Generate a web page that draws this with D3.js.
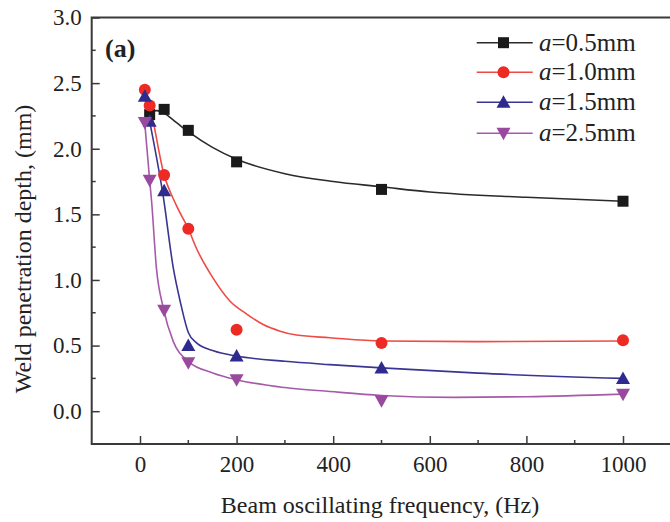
<!DOCTYPE html>
<html><head><meta charset="utf-8">
<script src="https://cdn.jsdelivr.net/npm/d3@7"></script>
<style>body{margin:0;background:#fff}svg{display:block}</style>
</head><body>
<svg id="c" width="670" height="522"></svg>
<script>
// ---- data ----
const freqs = [10, 20, 50, 100, 200, 500, 1000];
const seriesNames = ["0.5mm", "1.0mm", "1.5mm", "2.5mm"];
const depthA05 = [null, 2.26, 2.30, 2.14, 1.90, 1.69, 1.60];
const depthA10 = [2.45, 2.33, 1.80, 1.39, 0.62, 0.52, 0.54];
const depthA15 = [2.40, 2.21, 1.68, 0.50, 0.42, 0.33, 0.25];
const depthA25 = [2.20, 1.76, 0.77, 0.37, 0.24, 0.08, 0.13];
// fitted curves
const fitF05 = [10, 20, 35, 50, 75, 100, 150, 200, 300, 400, 500, 600, 800, 1000];
const fitV05 = [2.26, 2.28, 2.29, 2.27, 2.20, 2.13, 2.01, 1.92, 1.81, 1.75, 1.71, 1.67, 1.63, 1.60];
const fitF10 = [10, 20, 50, 75, 100, 117, 152, 186, 221, 255, 290, 324, 393, 500, 700, 1000];
const fitV10 = [2.45, 2.33, 1.80, 1.57, 1.39, 1.24, 1.01, 0.84, 0.74, 0.66, 0.61, 0.58, 0.56, 0.535, 0.53, 0.535];
const fitF15 = [10, 20, 48, 69, 83, 100, 117, 152, 200, 300, 393, 500, 700, 1000];
const fitV15 = [2.40, 2.21, 1.64, 1.09, 0.84, 0.60, 0.52, 0.46, 0.42, 0.38, 0.355, 0.33, 0.29, 0.25];
const fitF25 = [10, 20, 24, 34, 48, 69, 100, 152, 200, 300, 393, 500, 650, 800, 1000];
const fitV25 = [2.19, 1.76, 1.60, 1.09, 0.79, 0.53, 0.38, 0.29, 0.24, 0.18, 0.15, 0.12, 0.105, 0.11, 0.13];
const xTicks = [0, 200, 400, 600, 800, 1000];
const yTicks = [0.0, 0.5, 1.0, 1.5, 2.0, 2.5, 3.0];

const colors = ["#1a1a1a", "#ee2a24", "#2f2a8e", "#9a4a9e"];
const lineColors = ["#2a2a2a", "#f04a44", "#3a3592", "#a65aaa"];
const shapes = ["square", "circle", "up", "down"];
const pts = [depthA05, depthA10, depthA15, depthA25];
const fits = [[fitF05, fitV05], [fitF10, fitV10], [fitF15, fitV15], [fitF25, fitV25]];

const svg = d3.select("#c");
const L = 91.7, R = 671.3, T = 17.5, B = 444;
const x = d3.scaleLinear().domain([-100, 1100]).range([L, R]);
const y = d3.scaleLinear().domain([-0.25, 3.0]).range([B, T]);
const axisColor = "#3a3a3a";
const font = "'Liberation Serif','Times New Roman',serif";

// curves
const line = d3.line().x(d => x(d[0])).y(d => y(d[1])).curve(d3.curveMonotoneX);
fits.forEach((f, i) => {
  svg.append("path").datum(f[0].map((v, j) => [v, f[1][j]]))
    .attr("d", line).attr("fill", "none").attr("stroke", lineColors[i]).attr("stroke-width", 1.6);
});

function marker(g, shape, cx, cy, col) {
  if (shape === "square") g.append("rect").attr("x", cx - 5.5).attr("y", cy - 5.5).attr("width", 11).attr("height", 11).attr("fill", col);
  else if (shape === "circle") g.append("circle").attr("cx", cx).attr("cy", cy).attr("r", 6).attr("fill", col);
  else if (shape === "up") g.append("path").attr("d", `M${cx},${cy - 7}L${cx + 7},${cy + 5.5}L${cx - 7},${cy + 5.5}Z`).attr("fill", col);
  else g.append("path").attr("d", `M${cx},${cy + 7}L${cx + 7},${cy - 5.5}L${cx - 7},${cy - 5.5}Z`).attr("fill", col);
}
const mg = svg.append("g");
pts.forEach((arr, i) => {
  arr.forEach((v, j) => { if (v != null) marker(mg, shapes[i], x(freqs[j]), y(v), colors[i]); });
});

// axes
const ax = svg.append("g").attr("stroke", axisColor).attr("stroke-width", 2).attr("fill", "none");
ax.append("path").attr("d", `M${L},${T}H${R + 5}M${L},${T - 1}V${B}H${R + 5}`);
// y ticks (inward)
const ya = d3.axisLeft(y).tickValues(yTicks).tickSize(-8).tickPadding(10).tickFormat(d3.format(".1f"));
const yg = svg.append("g").attr("transform", `translate(${L},0)`).call(ya);
yg.select(".domain").remove();
yg.selectAll(".tick line").attr("stroke", axisColor).attr("stroke-width", 1.5);
yg.selectAll("text").attr("font-family", font).attr("font-size", 23).attr("fill", "#222");
d3.range(-0.25, 3.0, 0.5).filter(v => v > -0.2).forEach(v => {
  svg.append("line").attr("x1", L).attr("x2", L + 4).attr("y1", y(v)).attr("y2", y(v)).attr("stroke", axisColor).attr("stroke-width", 1.5);
});
// x ticks (inward)
const xa = d3.axisBottom(x).tickValues(xTicks).tickSize(-8).tickPadding(11.5).tickFormat(d3.format("d"));
const xg = svg.append("g").attr("transform", `translate(0,${B})`).call(xa);
xg.select(".domain").remove();
xg.selectAll(".tick line").attr("stroke", axisColor).attr("stroke-width", 1.5);
xg.selectAll("text").attr("font-family", font).attr("font-size", 23).attr("fill", "#222");
[100, 300, 500, 700, 900].forEach(v => {
  svg.append("line").attr("x1", x(v)).attr("x2", x(v)).attr("y1", B).attr("y2", B - 4).attr("stroke", axisColor).attr("stroke-width", 1.5);
});

// titles
svg.append("text").attr("x", 380).attr("y", 513).attr("text-anchor", "middle")
  .attr("font-family", font).attr("font-size", 24).attr("fill", "#222").text("Beam oscillating frequency, (Hz)");
svg.append("text").attr("transform", `translate(31,249) rotate(-90)`).attr("text-anchor", "middle")
  .attr("font-family", font).attr("font-size", 24).attr("fill", "#222").text("Weld penetration depth, (mm)");
svg.append("text").attr("x", 105).attr("y", 56.5).attr("font-family", font).attr("font-weight", "bold")
  .attr("font-size", 26).attr("fill", "#222").text("(a)");

// legend
const legY = [42.7, 72.3, 102.3, 133.3];
seriesNames.forEach((n, i) => {
  const g = svg.append("g");
  g.append("line").attr("x1", 476.7).attr("x2", 532.7).attr("y1", legY[i]).attr("y2", legY[i])
    .attr("stroke", lineColors[i]).attr("stroke-width", 1.6);
  marker(g, shapes[i], 503.5, legY[i], colors[i]);
  const t = g.append("text").attr("x", 539).attr("y", legY[i] + 8).attr("font-family", font)
    .attr("font-size", 25).attr("fill", "#222");
  t.append("tspan").attr("font-style", "italic").text("a");
  t.append("tspan").text("=" + n);
});
</script>
</body></html>
